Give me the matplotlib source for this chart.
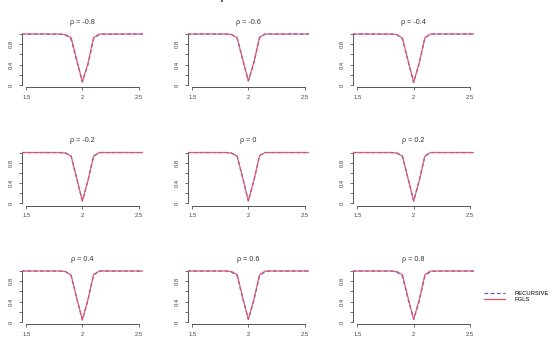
import matplotlib
matplotlib.use("Agg")
import matplotlib.pyplot as plt
from matplotlib.lines import Line2D

plt.rcParams['font.family'] = ['Liberation Sans', 'DejaVu Sans']

rho_values = [-0.8, -0.6, -0.4, -0.2, 0, 0.2, 0.4, 0.6, 0.8]
rho_labels = ["-0.8", "-0.6", "-0.4", "-0.2", "0", "0.2", "0.4", "0.6", "0.8"]

x_grid = [1.40, 1.50, 1.60, 1.70, 1.80, 1.85, 1.90, 1.95, 2.00,
          2.05, 2.10, 2.15, 2.20, 2.30, 2.40, 2.50, 2.60]

fgls_power = [
    [1, 1, 1, 1, 1, 0.99, 0.93, 0.50, 0.06, 0.42, 0.93, 1.0, 1, 1, 1, 1, 1],
    [1, 1, 1, 1, 1, 0.99, 0.93, 0.50, 0.08, 0.45, 0.94, 1.0, 1, 1, 1, 1, 1],
    [1, 1, 1, 1, 1, 0.99, 0.92, 0.48, 0.05, 0.44, 0.93, 1.0, 1, 1, 1, 1, 1],
    [1, 1, 1, 1, 1, 0.99, 0.93, 0.49, 0.05, 0.45, 0.93, 1.0, 1, 1, 1, 1, 1],
    [1, 1, 1, 1, 1, 0.99, 0.93, 0.50, 0.05, 0.46, 0.94, 1.0, 1, 1, 1, 1, 1],
    [1, 1, 1, 1, 1, 0.99, 0.93, 0.49, 0.05, 0.45, 0.93, 1.0, 1, 1, 1, 1, 1],
    [1, 1, 1, 1, 1, 0.99, 0.92, 0.47, 0.04, 0.44, 0.93, 1.0, 1, 1, 1, 1, 1],
    [1, 1, 1, 1, 1, 0.99, 0.93, 0.48, 0.05, 0.45, 0.93, 1.0, 1, 1, 1, 1, 1],
    [1, 1, 1, 1, 1, 0.99, 0.93, 0.48, 0.05, 0.44, 0.93, 1.0, 1, 1, 1, 1, 1],
]

recursive_power = [
    [1, 1, 1, 1, 1, 0.98, 0.90, 0.47, 0.06, 0.40, 0.91, 0.99, 1, 1, 1, 1, 1],
    [1, 1, 1, 1, 1, 0.99, 0.92, 0.49, 0.08, 0.44, 0.93, 1.0, 1, 1, 1, 1, 1],
    [1, 1, 1, 1, 1, 0.99, 0.91, 0.47, 0.05, 0.43, 0.92, 1.0, 1, 1, 1, 1, 1],
    [1, 1, 1, 1, 1, 0.99, 0.93, 0.49, 0.05, 0.45, 0.93, 1.0, 1, 1, 1, 1, 1],
    [1, 1, 1, 1, 1, 0.99, 0.93, 0.50, 0.05, 0.46, 0.94, 1.0, 1, 1, 1, 1, 1],
    [1, 1, 1, 1, 1, 0.99, 0.93, 0.49, 0.05, 0.45, 0.93, 1.0, 1, 1, 1, 1, 1],
    [1, 1, 1, 1, 1, 0.99, 0.91, 0.46, 0.04, 0.43, 0.92, 1.0, 1, 1, 1, 1, 1],
    [1, 1, 1, 1, 1, 0.98, 0.91, 0.46, 0.05, 0.43, 0.91, 0.99, 1, 1, 1, 1, 1],
    [1, 1, 1, 1, 1, 0.98, 0.90, 0.45, 0.05, 0.41, 0.90, 0.99, 1, 1, 1, 1, 1],
]

series_labels = ["RECURSIVE", "FGLS"]

W, H = 552, 352
fig = plt.figure(figsize=(W / 100, H / 100), dpi=100)

col_left = [21.7, 187.7, 353.0]
row_axis = [87.0, 205.5, 324.0]
pw, ph = 121.3, 55.0

red = "#DF536B"
blue = "#5A5AD8"
grey = "#555555"

for i, rho in enumerate(rho_values):
    r, c = divmod(i, 3)
    left = col_left[c] / W
    bottom = 1 - row_axis[r] / H
    ax = fig.add_axes([left, bottom, pw / W, ph / H])
    ax.plot(x_grid, recursive_power[i], color=blue, lw=0.9, ls=(0, (3, 2)), zorder=2)
    ax.plot(x_grid, fgls_power[i], color=red, lw=0.9, zorder=3, alpha=0.9)
    ax.set_xlim(1.46, 2.54)
    ax.set_ylim(-0.04, 1.04)
    for s in ["top", "right"]:
        ax.spines[s].set_visible(False)
    ax.spines["left"].set_bounds(0, 1)
    ax.spines["bottom"].set_bounds(1.5, 2.5)
    for s in ["left", "bottom"]:
        ax.spines[s].set_color(grey)
        ax.spines[s].set_linewidth(0.7)
    ax.set_xticks([1.5, 2.0, 2.5])
    ax.set_xticklabels(["1.5", "2", "2.5"])
    ax.set_yticks([0, 0.2, 0.4, 0.6, 0.8, 1.0])
    ax.set_yticklabels(["0", "", "0.4", "", "0.8", ""], rotation=90, va="center")
    ax.tick_params(axis="both", length=2.2, width=0.6, color=grey,
                   labelsize=4.2, labelcolor="#444444", pad=3.5)
    ax.set_title("\u03c1 = " + rho_labels[i], fontsize=5.2, color="#333333", pad=6)

fig.text(225 / W, 1 + 1.0 / H, "\u03c1", fontsize=12, ha="center", va="baseline",
         color="#333333")

handles = [Line2D([], [], color=blue, lw=0.9, ls=(0, (3, 2))),
           Line2D([], [], color=red, lw=0.9)]
fig.legend(handles, series_labels, loc="center left",
           bbox_to_anchor=(484 / W, 1 - 296.5 / H), frameon=False,
           fontsize=4.2, handlelength=3.6, handletextpad=1.6,
           labelspacing=0.25, borderaxespad=0, borderpad=0)

fig.savefig("out.png", dpi=100)
